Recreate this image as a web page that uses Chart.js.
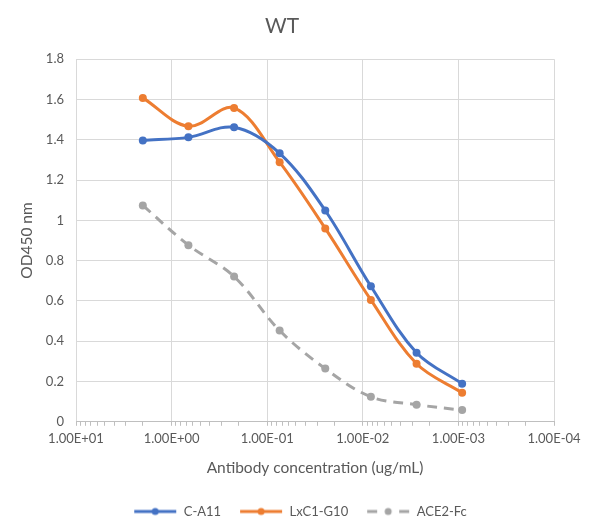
<!DOCTYPE html>
<html>
<head>
<meta charset="utf-8">
<script src="https://cdn.jsdelivr.net/npm/chart.js@4/dist/chart.umd.min.js"></script>
<style>
html,body{margin:0;padding:0;background:#fff;}
#wrap{width:591px;height:528px;position:relative;}
</style>
</head>
<body>
<div id="wrap"><canvas id="c" width="591" height="528"></canvas></div>
<script>
const concentrations = [2, 0.667, 0.222, 0.0741, 0.0247, 0.00823, 0.00274, 0.000914];
const seriesNames = ['C-A11', 'LxC1-G10', 'ACE2-Fc'];
const cA11 = [1.397, 1.412, 1.462, 1.333, 1.049, 0.673, 0.343, 0.189];
const lxC1G10 = [1.608, 1.467, 1.558, 1.289, 0.960, 0.605, 0.288, 0.144];
const ace2Fc = [1.074, 0.877, 0.721, 0.453, 0.264, 0.124, 0.085, 0.058];
const xMajorTicks = [10, 1, 0.1, 0.01, 0.001, 0.0001];
const yTicks = [0, 0.2, 0.4, 0.6, 0.8, 1, 1.2, 1.4, 1.6, 1.8];

const colors = ['#4472C4', '#ED7D31', '#A5A5A5'];
const FONT = 'Lato';

function pts(vals){ return vals.map((v,i)=>({x: concentrations[i], y: v})); }

function fmtExp(v){
  const e = Math.round(Math.log10(v));
  const sign = e < 0 ? '-' : '+';
  const a = Math.abs(e);
  return '1.00E' + sign + (a < 10 ? '0' + a : a);
}
function isMajor(v){ return xMajorTicks.some(m => Math.abs(v - m) / m < 1e-6); }

function legendIcon(color, dashed){
  const c = document.createElement('canvas');
  c.width = 44; c.height = 10;
  const g = c.getContext('2d');
  g.strokeStyle = color; g.fillStyle = color; g.lineWidth = 3;
  g.beginPath();
  if (dashed) {
    g.moveTo(1, 5); g.lineTo(11, 5);
    g.moveTo(33, 5); g.lineTo(43, 5);
  } else {
    g.moveTo(1, 5); g.lineTo(43, 5);
  }
  g.stroke();
  g.beginPath(); g.arc(22, 5, 3.5, 0, Math.PI*2); g.fill();
  return c;
}
const icons = [legendIcon(colors[0], false), legendIcon(colors[1], false), legendIcon(colors[2], true)];

const seriesValues = [cA11, lxC1G10, ace2Fc];
const datasets = seriesValues.map((vals, i) => ({
  label: seriesNames[i],
  data: pts(vals),
  borderColor: colors[i],
  backgroundColor: colors[i],
  borderWidth: 3,
  borderDash: i === 2 ? [10, 7] : [],
  pointRadius: 4,
  pointHoverRadius: 4,
  pointBorderWidth: 0,
  pointBackgroundColor: colors[i],
  tension: 0.35,
  fill: false
}));

const legendShift = {
  id: 'legendShift',
  afterLayout(chart){
    const l = chart.legend;
    if (l) { l.left += 18; l.right += 18; }
  }
};

new Chart(document.getElementById('c'), {
  type: 'line',
  data: { datasets },
  plugins: [legendShift],
  options: {
    responsive: false,
    animation: false,
    devicePixelRatio: 1,
    layout: { padding: { left: 10, right: 37, top: 8, bottom: 0 } },
    plugins: {
      title: {
        display: true, text: 'WT', color: '#595959',
        font: { family: FONT, size: 21, weight: 'normal' },
        padding: { top: 6, bottom: 20 }
      },
      legend: {
        position: 'bottom',
        labels: {
          usePointStyle: true,
          pointStyleWidth: 44,
          boxHeight: 10,
          padding: 18,
          color: '#595959',
          font: { family: FONT, size: 13 },
          generateLabels(chart){
            const items = Chart.defaults.plugins.legend.labels.generateLabels(chart);
            items.forEach((it, i) => { it.pointStyle = icons[i]; });
            return items;
          }
        }
      },
      tooltip: { enabled: false }
    },
    scales: {
      x: {
        type: 'logarithmic',
        reverse: true,
        min: 0.0001, max: 10,
        afterBuildTicks(scale){
          const t = [];
          for (let e = -4; e <= 1; e++) {
            for (let m = 1; m <= 9; m++) {
              const v = m * Math.pow(10, e);
              if (v <= 10.0000001) t.push({ value: v });
            }
          }
          scale.ticks = t;
        },
        ticks: {
          autoSkip: false, maxRotation: 0, padding: 5,
          color: '#595959', font: { family: FONT, size: 13 },
          callback(v){ return isMajor(v) ? fmtExp(v) : ''; }
        },
        grid: {
          color: ctx => (ctx.tick && isMajor(ctx.tick.value)) ? '#D9D9D9' : 'rgba(0,0,0,0)',
          tickColor: '#BFBFBF',
          tickLength: 4,
          lineWidth: 1
        },
        border: { display: true, color: '#BFBFBF', width: 1 },
        title: {
          display: true, text: 'Antibody concentration (ug/mL)', color: '#595959',
          font: { family: FONT, size: 15.5 }, padding: { top: 7, bottom: 10 }
        }
      },
      y: {
        min: 0, max: 1.8,
        afterBuildTicks(scale){ scale.ticks = yTicks.map(v => ({ value: v })); },
        afterFit(scale){ scale.width = 66; },
        ticks: {
          padding: 12, color: '#595959', font: { family: FONT, size: 13 },
          callback(v){ return String(Math.round(v * 10) / 10); }
        },
        grid: { color: '#D9D9D9', drawTicks: false, lineWidth: 1 },
        border: { display: false },
        title: {
          display: true, text: 'OD450 nm', color: '#595959',
          font: { family: FONT, size: 15.5 }, padding: { top: 8, bottom: 6 }
        }
      }
    }
  }
});
</script>
</body>
</html>
